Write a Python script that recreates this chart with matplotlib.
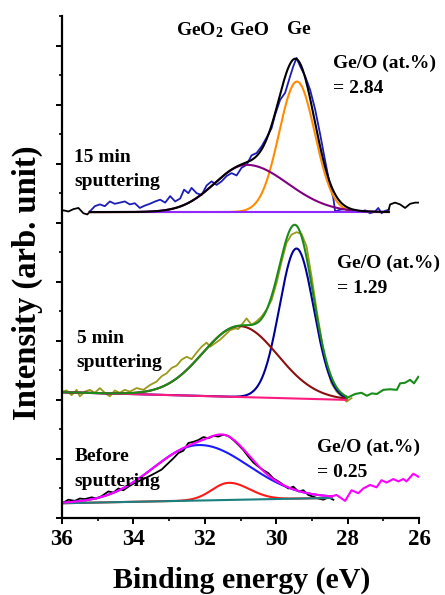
import matplotlib
matplotlib.use("Agg")
import matplotlib.pyplot as plt
import numpy as np
from matplotlib.ticker import MultipleLocator

plt.rcParams['font.family'] = ['Liberation Serif', 'DejaVu Serif']
plt.rcParams['font.weight'] = 'bold'
plt.rcParams['mathtext.fontset'] = 'custom'
plt.rcParams['mathtext.rm'] = 'Liberation Serif:bold'
plt.rcParams['mathtext.it'] = 'Liberation Serif:bold'
plt.rcParams['mathtext.bf'] = 'Liberation Serif:bold'

# ---- 15 min sputtering (top) ----
e_15_left = [36.0, 35.96, 35.82, 35.68, 35.54, 35.40, 35.29, 35.22]
i_15_left = [5.20, 5.21, 5.19, 5.23, 5.25, 5.16, 5.14, 5.19]
e_15_raw = [35.22, 35.08, 34.94, 34.80, 34.66, 34.52, 34.38, 34.24, 34.10, 33.96, 33.82, 33.68,
            33.54, 33.39, 33.25, 33.11, 32.97, 32.83, 32.69, 32.58, 32.46, 32.37, 32.23, 32.09,
            31.95, 31.81, 31.67, 31.53, 31.39, 31.25, 31.11, 30.97, 30.83, 30.69, 30.55, 30.41,
            30.27, 30.13, 30.03, 29.89, 29.75, 29.61, 29.52, 29.43, 29.33, 29.19, 29.05, 28.91,
            28.77, 28.63, 28.49, 28.40, 28.35, 28.21, 28.07, 27.93, 27.79, 27.65, 27.51, 27.37,
            27.23, 27.14, 27.05, 26.95, 26.85]
i_15_raw = [5.19, 5.28, 5.31, 5.28, 5.36, 5.32, 5.34, 5.36, 5.31, 5.33, 5.25, 5.29,
            5.32, 5.36, 5.39, 5.34, 5.45, 5.36, 5.41, 5.56, 5.50, 5.59, 5.50, 5.47,
            5.63, 5.70, 5.64, 5.70, 5.79, 5.84, 5.80, 5.93, 5.98, 6.14, 6.18, 6.29,
            6.44, 6.60, 6.83, 7.08, 7.20, 7.48, 7.65, 7.79, 7.65, 7.48, 7.25, 6.92,
            6.50, 6.05, 5.62, 5.42, 5.19, 5.22, 5.23, 5.19, 5.22, 5.18, 5.21, 5.16,
            5.19, 5.25, 5.16, 5.20, 5.22]
e_15_right = [26.85, 26.81, 26.67, 26.53, 26.39, 26.25, 26.11, 26.0]
i_15_right = [5.22, 5.31, 5.34, 5.31, 5.25, 5.32, 5.34, 5.34]
# fit: centre, height, sigma (high-E side), sigma (low-E side)
ge_15 = [29.42, 2.21, 0.50, 0.50]
geo_15 = [30.83, 0.80, 0.90, 1.15]
base_15 = [5.18, 5.18]
fit_15 = [35.22, 26.85]

# ---- 5 min sputtering (middle) ----
e_5_raw = [36.00, 35.87, 35.73, 35.59, 35.50, 35.36, 35.22, 35.08, 34.94, 34.80, 34.66, 34.52,
           34.38, 34.24, 34.10, 33.91, 33.72, 33.54, 33.35, 33.21, 33.07, 32.93, 32.79, 32.65,
           32.51, 32.37, 32.23, 32.09, 31.95, 31.85, 31.71, 31.57, 31.43, 31.29, 31.15, 31.06,
           30.97, 30.83, 30.69, 30.55, 30.41, 30.27, 30.13, 29.99, 29.85, 29.71, 29.57, 29.43,
           29.29, 29.15, 29.01, 28.87, 28.73, 28.59, 28.45, 28.31, 28.17, 28.03, 27.89]
i_5_raw = [2.14, 2.16, 2.08, 2.17, 2.06, 2.14, 2.17, 2.12, 2.20, 2.12, 2.06, 2.16,
           2.12, 2.17, 2.14, 2.20, 2.17, 2.25, 2.31, 2.40, 2.45, 2.54, 2.58, 2.68,
           2.73, 2.69, 2.80, 2.90, 2.97, 2.90, 2.96, 3.02, 3.10, 3.18, 3.21, 3.20,
           3.27, 3.38, 3.27, 3.33, 3.41, 3.53, 3.69, 3.98, 4.34, 4.66, 4.80, 4.84,
           4.81, 4.60, 4.09, 3.53, 3.02, 2.56, 2.28, 2.14, 2.06, 1.97, 2.03]
e_5_tail = [28.03, 27.79, 27.61, 27.46, 27.32, 27.18, 27.00, 26.81, 26.62, 26.53, 26.39,
            26.25, 26.14, 26.02]
i_5_tail = [2.03, 2.10, 2.12, 2.07, 2.11, 2.10, 2.17, 2.18, 2.17, 2.28, 2.29, 2.34, 2.28, 2.39]
ge_5 = [29.43, 2.54, 0.48, 0.48]
geo_5 = [31.01, 1.20, 1.05, 1.05]
base_5 = [2.13, 2.00]
fit_5 = [36.0, 28.03]

# ---- before sputtering (bottom) ----
e_0_raw = [36.00, 35.96, 35.82, 35.64, 35.50, 35.36, 35.17, 35.03, 34.89, 34.70, 34.56, 34.42,
           34.28, 34.14, 34.00, 33.86, 33.72, 33.58, 33.39, 33.21, 33.02, 32.88, 32.74, 32.60,
           32.46, 32.32, 32.18, 32.04, 31.90, 31.76, 31.62, 31.48, 31.34, 31.20, 31.06, 30.92,
           30.78, 30.64, 30.50, 30.36, 30.22, 30.08, 29.94, 29.80, 29.66, 29.52, 29.38, 29.24,
           29.10, 28.96, 28.82, 28.68, 28.54, 28.40]
i_0_raw = [0.27, 0.26, 0.31, 0.29, 0.33, 0.32, 0.35, 0.33, 0.37, 0.45, 0.43, 0.50,
           0.47, 0.53, 0.58, 0.62, 0.66, 0.70, 0.76, 0.82, 0.93, 1.01, 1.10, 1.14,
           1.27, 1.29, 1.32, 1.37, 1.35, 1.39, 1.38, 1.41, 1.39, 1.32, 1.24, 1.15,
           1.04, 0.94, 0.87, 0.81, 0.76, 0.67, 0.62, 0.56, 0.50, 0.53, 0.45, 0.47,
           0.39, 0.36, 0.33, 0.31, 0.35, 0.31]
e_0_tail = [28.49, 28.31, 28.07, 27.89, 27.70, 27.56, 27.37, 27.19, 27.05, 26.91, 26.72,
            26.58, 26.44, 26.35, 26.16, 26.02]
i_0_tail = [0.36, 0.39, 0.29, 0.47, 0.42, 0.50, 0.56, 0.52, 0.64, 0.60, 0.66, 0.62, 0.66,
            0.62, 0.75, 0.70]
geo2_0 = [32.17, 0.94, 1.27, 1.40]
geo_0 = [31.33, 0.29, 0.47, 0.58]
base_0 = [0.25, 0.34]
fit_0 = [36.0, 28.45]


def peak(e, p):
    c, a, s_hi, s_lo = p
    s = np.where(e >= c, s_hi, s_lo)
    return a * np.exp(-(e - c) ** 2 / (2 * s ** 2))


def line_base(e, b, rng):
    return b[0] + (b[1] - b[0]) * (rng[0] - e) / (rng[0] - rng[1])


fig = plt.figure(figsize=(4.45, 5.95), dpi=100)
ax = fig.add_axes([0.1393, 0.1294, 0.8023, 0.8437])
lw = 1.5

# top
ax.plot(e_15_left, i_15_left, color='black', lw=1.3)
ax.plot(e_15_raw, i_15_raw, color='#1c1cb8', lw=1.3)
ax.plot(e_15_right, i_15_right, color='black', lw=1.3)
e = np.linspace(fit_15[0], fit_15[1], 400)
b = line_base(e, base_15, fit_15)
ax.plot(e, b + peak(e, ge_15), color='#ff8c00', lw=lw)
ax.plot(e, b + peak(e, geo_15), color='#800080', lw=lw)
ax.plot(e, b, color='#9127ff', lw=lw)
ax.plot(e, b + peak(e, ge_15) + peak(e, geo_15), color='black', lw=lw)

# middle
ax.plot(e_5_raw, i_5_raw, color='#9a9a1a', lw=1.3)
e = np.linspace(fit_5[0], fit_5[1], 400)
b = line_base(e, base_5, fit_5)
ax.plot(e, b + peak(e, ge_5), color='#000099', lw=lw)
ax.plot(e, b + peak(e, geo_5), color='#8b0f0f', lw=lw)
ax.plot(e, b, color='#ff1a80', lw=lw)
ax.plot(e, b + peak(e, ge_5) + peak(e, geo_5), color='#1a8c1a', lw=lw)
ax.plot(e_5_tail, i_5_tail, color='#1a8c1a', lw=lw)

# bottom
ax.plot(e_0_raw, i_0_raw, color='black', lw=1.3)
e = np.linspace(fit_0[0], fit_0[1], 400)
b = line_base(e, base_0, fit_0)
ax.plot(e, b + peak(e, geo2_0), color='#1a1aff', lw=lw)
ax.plot(e, b + peak(e, geo_0), color='#ff1a1a', lw=lw)
ax.plot(e, b, color='#1a8080', lw=lw)
ax.plot(e, b + peak(e, geo2_0) + peak(e, geo_0), color='#ff00ff', lw=lw)
ax.plot(e_0_tail, i_0_tail, color='#ff00ff', lw=lw)

ax.set_xlim(36, 26)
ax.set_ylim(0, 8.5)
ax.spines['top'].set_visible(False)
ax.spines['right'].set_visible(False)
ax.spines['left'].set_linewidth(1.6)
ax.spines['bottom'].set_linewidth(1.6)
ax.xaxis.set_major_locator(MultipleLocator(2))
ax.xaxis.set_minor_locator(MultipleLocator(1))
ax.yaxis.set_major_locator(MultipleLocator(1))
ax.yaxis.set_minor_locator(MultipleLocator(0.5))
ax.set_yticklabels([])
ax.tick_params(axis='both', which='major', direction='out', length=4, width=1.4)
ax.tick_params(axis='both', which='minor', direction='out', length=2.5, width=1.2)
ax.tick_params(axis='x', labelsize=16.5, pad=4)
for t in ax.get_xticklabels():
    t.set_fontweight('bold')

fs = 14
ax.text(32.13, 8.17, 'GeO$_\\mathregular{2}$', fontsize=fs, fontweight='bold', ha='center', va='baseline')
ax.text(30.76, 8.17, 'GeO', fontsize=fs, fontweight='bold', ha='center', va='baseline')
ax.text(29.36, 8.20, 'Ge', fontsize=fs, fontweight='bold', ha='center', va='baseline')

ax.text(28.41, 7.62, 'Ge/O (at.%)', fontsize=fs, fontweight='bold', va='baseline')
ax.text(28.41, 7.20, '= 2.84', fontsize=fs, fontweight='bold', va='baseline')
ax.text(28.31, 4.23, 'Ge/O (at.%)', fontsize=fs, fontweight='bold', va='baseline')
ax.text(28.31, 3.81, '= 1.29', fontsize=fs, fontweight='bold', va='baseline')
ax.text(28.87, 1.12, 'Ge/O (at.%)', fontsize=fs, fontweight='bold', va='baseline')
ax.text(28.87, 0.70, '= 0.25', fontsize=fs, fontweight='bold', va='baseline')

ax.text(35.66, 6.02, '15 min', fontsize=fs, fontweight='bold', va='baseline')
ax.text(35.66, 5.62, 'sputtering', fontsize=fs, fontweight='bold', va='baseline')
ax.text(35.59, 2.97, '5 min', fontsize=fs, fontweight='bold', va='baseline')
ax.text(35.59, 2.56, 'sputtering', fontsize=fs, fontweight='bold', va='baseline')
ax.text(35.64, 0.97, 'Before', fontsize=fs, fontweight='bold', va='baseline')
ax.text(35.64, 0.54, 'sputtering', fontsize=fs, fontweight='bold', va='baseline')

fig.text(242 / 445, 1 - 580 / 595, 'Binding energy (eV)', fontsize=21.5, fontweight='bold',
         ha='center', va='center')
fig.text(27 / 445, 1 - 283 / 595, 'Intensity (arb. unit)', fontsize=23.5, fontweight='bold',
         ha='center', va='center', rotation=90)

fig.savefig('out.png', dpi=100)
